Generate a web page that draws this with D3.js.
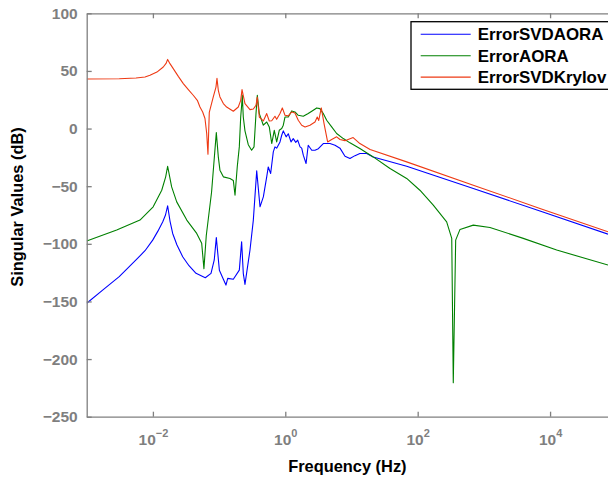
<!DOCTYPE html>
<html>
<head>
<meta charset="utf-8">
<script src="https://cdn.jsdelivr.net/npm/d3@7"></script>
<style>
  body { margin: 0; background: #fff; }
  svg { display: block; font-family: "Liberation Sans", Arial, sans-serif; }
</style>
</head>
<body>
<svg id="bode"></svg>
<script>
// values: frequency (Hz) and singular value (dB)
const freqSVDAORA = [1e-3, 1.76e-3, 3.10e-3, 5.56e-3, 7.60e-3, 9.93e-3, 1.19e-2, 1.41e-2, 1.55e-2, 1.67e-2,
  1.81e-2, 1.99e-2, 2.31e-2, 2.82e-2, 3.51e-2, 4.48e-2, 6.19e-2,
  7.55e-2, 8.45e-2, 9.08e-2, 0.101, 0.116, 0.127, 0.135, 0.164, 0.202, 0.219, 0.232, 0.246, 0.293, 0.329,
  0.370, 0.415, 0.466, 0.524, 0.553, 0.601, 0.659, 0.698, 0.741, 0.832, 0.883, 0.933, 1.03, 1.11, 1.22,
  1.32, 1.44, 1.54, 1.67, 1.77, 1.87, 2.06, 2.22, 2.51, 2.81, 3.16, 3.75, 4.73, 5.64, 6.70, 7.98, 9.48,
  11.3, 13.4, 17.0, 21.3, 68.2, 692, 7031, 75000];
const dbSVDAORA = [-151.6, -140, -128.5, -114, -106, -96.8, -89, -80.9, -75, -67,
  -80, -91, -101, -111.2, -119, -125.6, -129.4,
  -125.6, -114, -94.6, -123, -130.8, -135.8, -130, -130.8, -122.8, -98.2, -125.6, -135.2, -105.4, -79.4,
  -36.7, -67.9, -59.3, -41.9, -33.3, -39, -20.2, -15.9, -17, -11.6, -5.8, -2, -7.2, -4.5, -11.6,
  -8.7, -12, -10, -15.9, -17, -23.1, -30.3, -14.5, -18.8, -18.8, -17.5, -13, -13, -14.5, -17, -24, -26,
  -23.5, -21.7, -21.7, -24.6, -32.7, -52, -71.6, -91.6];

const freqAORA = [1e-3, 2.84e-3, 6.38e-3, 1.01e-2, 1.36e-2, 1.56e-2, 1.67e-2, 1.92e-2, 2.29e-2, 3.25e-2,
  4.59e-2, 5.46e-2, 5.90e-2, 6.40e-2, 7.70e-2, 9.08e-2, 9.73e-2, 0.103, 0.116, 0.146, 0.164, 0.174, 0.188,
  0.202, 0.212, 0.219, 0.224, 0.232, 0.246,
  0.276, 0.310, 0.337, 0.361, 0.378, 0.405, 0.466, 0.524, 0.573, 0.624, 0.682, 0.741, 0.811, 0.883, 0.933,
  0.989, 1.11, 1.25, 1.40, 1.57, 1.87, 2.22, 2.65, 2.98, 3.34, 3.75, 4.22, 5.02, 5.97, 7.52, 9.48, 13.4,
  21.3, 38.2, 68.2, 108, 172, 274, 327, 345, 375, 436, 692, 1236, 3936, 12590, 75000];
const dbAORA = [-97.6, -88.1, -79.4, -67.9, -53.5, -41.9, -32.7, -50.6, -63.6, -79.4,
  -91, -99.6, -121.5, -93, -55, -3.5, -24.6, -36.1, -41.9, -43.3, -45, -57.8, -33.3,
  -15.9, 10, 20, 29, 10, -2,
  -14, -18.8, -15.9, 13, 28.8, 13, 2.9, 5.7, 1.4, -13, -1.5, -11.6, -1.5, 0, 2.9,
  10, 10, 15.3, 14.4, 11.5, 10.7, 13, 15.9, 17.9, 17.3, 13, 7.2, 1.4, -4.3, -8.7, -12.4, -17.3,
  -24.6, -34.7, -43.3, -53.5, -66.4, -80.9, -95.3, -220.5, -96.8, -87.5, -83.8, -85.8, -95.3, -105.4, -118.4];

const freqSVDKrylov = [1e-3, 3.10e-3, 5.56e-3, 7.60e-3, 9.03e-3, 1.15e-2, 1.435e-2, 1.58e-2, 1.67e-2, 1.81e-2,
  2.03e-2, 2.42e-2, 2.88e-2, 3.43e-2, 4.07e-2, 4.69e-2, 5.14e-2, 5.65e-2, 6.12e-2, 6.50e-2, 6.79e-2,
  7.11e-2, 8.17e-2, 8.97e-2, 9.29e-2, 9.73e-2, 0.103, 0.116, 0.130, 0.164, 0.195, 0.212, 0.222, 0.246, 0.293,
  0.329, 0.361, 0.378, 0.405, 0.466, 0.524, 0.573, 0.624, 0.698, 0.741, 0.832, 0.902, 0.989, 1.11, 1.25,
  1.40, 1.57, 1.77, 1.99, 2.36, 2.81, 3.04, 3.20, 3.50, 3.85, 4.36, 5.02, 5.97, 6.70, 7.98, 10.6, 13.4,
  19.1, 68.2, 692, 7031, 75000];
const dbSVDKrylov = [43, 43.2, 43.8, 44.8, 46.2, 49, 53.4, 56.5, 60, 56.3,
  52, 45.3, 39, 33.8, 28.9, 24.5, 18.7, 14.4, 8.7, -4.3, -22.3,
  14, 27.4, 36, 43.5, 33.2, 27.4, 21.7, 18.7, 15, 18.7, 24.5, 33.8, 21.7, 16.4,
  17, 20.2, 27.4, 10, 6.6, 13, 6.6, 6.8, 10.7, 8, 13, 17.9, 11.5, 11, 14.4,
  13.5, 7.2, 2.9, 1.4, 2.9, 5.7, 10, 7, 17.9, 4.3, -11.6, -9.5, -7.2, -9.5, -10.5, -7.8, -13,
  -18.2, -28.9, -49.1, -69.3, -89.6];

const seriesNames = ["ErrorSVDAORA", "ErrorAORA", "ErrorSVDKrylov"];
const seriesColors = ["#0000ff", "#008000", "#ee3a14"];
const xTickExps = [-2, 0, 2, 4];
const yTicks = [100, 50, 0, -50, -100, -150, -200, -250];

const width = 608, height = 481;
const margin = { top: 13.3, right: 0, bottom: 64.3, left: 86.7 };
const axisColor = "#7f7f7f";

const svg = d3.select("#bode").attr("width", width).attr("height", height);

const x = d3.scaleLog()
  .domain([1e-3, 75000])
  .range([margin.left, width - margin.right]);

const y = d3.scaleLinear()
  .domain([-250, 100])
  .range([height - margin.bottom, margin.top]);

svg.append("defs").append("clipPath").attr("id", "plot-clip")
  .append("rect")
  .attr("x", margin.left).attr("y", margin.top)
  .attr("width", width - margin.left).attr("height", height - margin.bottom - margin.top);

// curves
const line = d3.line()
  .x(d => x(d[0]))
  .y(d => y(d[1]));

const allSeries = [
  d3.zip(freqSVDAORA, dbSVDAORA),
  d3.zip(freqAORA, dbAORA),
  d3.zip(freqSVDKrylov, dbSVDKrylov)
];

svg.append("g")
  .attr("clip-path", "url(#plot-clip)")
  .selectAll("path")
  .data(allSeries)
  .join("path")
  .attr("d", line)
  .attr("fill", "none")
  .attr("stroke", (d, i) => seriesColors[i])
  .attr("stroke-width", 1.1)
  .attr("stroke-linejoin", "round");

// bottom axis, ticks pointing in
const xBottom = svg.append("g")
  .attr("transform", "translate(0," + y(-250) + ")")
  .call(d3.axisBottom(x)
    .tickValues(xTickExps.map(e => Math.pow(10, e)))
    .tickSizeInner(-5).tickSizeOuter(0)
    .tickFormat(() => ""));

xBottom.selectAll(".tick").each(function(d, i) {
  const t = d3.select(this).append("text")
    .attr("y", 28)
    .attr("fill", axisColor)
    .attr("font-weight", "bold")
    .attr("text-anchor", "middle")
    .attr("font-size", 15.5);
  t.append("tspan").text("10");
  t.append("tspan")
    .attr("dy", -8)
    .attr("font-size", 11)
    .text(d3.format("")(xTickExps[i]).replace("-", "\u2212"));
});

// top axis (box)
svg.append("g")
  .attr("transform", "translate(0," + y(100) + ")")
  .call(d3.axisTop(x)
    .tickValues(xTickExps.map(e => Math.pow(10, e)))
    .tickSizeInner(-5).tickSizeOuter(0)
    .tickFormat(() => ""));

// left axis
const yLeft = svg.append("g")
  .attr("transform", "translate(" + margin.left + ",0)")
  .call(d3.axisLeft(y)
    .tickValues(yTicks)
    .tickSizeInner(-5).tickSizeOuter(0)
    .tickPadding(9));

yLeft.selectAll("text")
  .attr("fill", axisColor)
  .attr("font-size", 15.5)
  .attr("font-weight", "bold")
  .attr("font-family", "'Liberation Sans', Arial, sans-serif");

svg.selectAll(".domain, .tick line")
  .attr("stroke", axisColor)
  .attr("stroke-width", 1.3);

// axis titles
svg.append("text")
  .attr("x", (margin.left + width) / 2)
  .attr("y", 472)
  .attr("text-anchor", "middle")
  .attr("font-size", 16.4)
  .attr("font-weight", "bold")
  .text("Frequency (Hz)");

svg.append("text")
  .attr("transform", "translate(23,207) rotate(-90)")
  .attr("text-anchor", "middle")
  .attr("font-size", 16.4)
  .attr("font-weight", "bold")
  .text("Singular Values (dB)");

// legend
const legend = svg.append("g").attr("transform", "translate(411,21.7)");
legend.append("rect")
  .attr("width", 215).attr("height", 67.6)
  .attr("fill", "#fff")
  .attr("stroke", "#000")
  .attr("stroke-width", 1.3);

const rows = legend.selectAll("g.row")
  .data(seriesNames)
  .join("g")
  .attr("class", "row")
  .attr("transform", (d, i) => "translate(0," + (12.6 + i * 21.4) + ")");

rows.append("line")
  .attr("x1", 9.7).attr("x2", 59.7)
  .attr("stroke", (d, i) => seriesColors[i])
  .attr("stroke-width", 1.1);

rows.append("text")
  .attr("x", 66.7)
  .attr("dy", "0.36em")
  .attr("font-size", 16.9)
  .attr("font-weight", "bold")
  .text(d => d);
</script>
</body>
</html>
